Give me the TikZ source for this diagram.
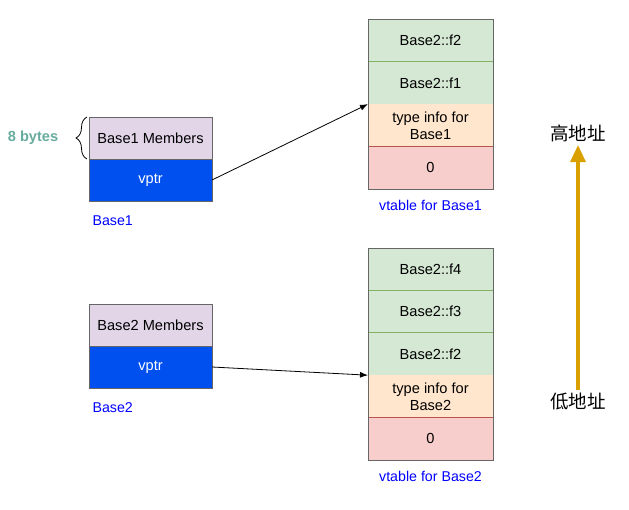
\documentclass[tikz,border=0pt]{standalone}
\usepackage{fontspec}
\setmainfont{Liberation Sans}
\newfontfamily\cjk{Noto Sans CJK SC}
\usepackage{tikz}
\usetikzlibrary{positioning,calc,arrows.meta,decorations.pathreplacing}
\definecolor{MemPurple}{HTML}{E1D5E7}
\definecolor{PtrBlue}{HTML}{0050EF}
\definecolor{FuncGreen}{HTML}{D5E8D4}
\definecolor{FuncEdge}{HTML}{82B366}
\definecolor{InfoOrange}{HTML}{FFE6CC}
\definecolor{ZeroRed}{HTML}{F8CECC}
\definecolor{ZeroEdge}{HTML}{B85450}
\definecolor{EdgeGray}{HTML}{666666}
\definecolor{AddrGold}{HTML}{D9A000}
\definecolor{SizeTeal}{HTML}{67AB9F}
\definecolor{LabelBlue}{HTML}{0000FF}

\begin{document}
\begin{tikzpicture}[x=1pt, y=-1pt, every node/.style={font=\fontsize{14.6}{17}\selectfont}]
  \tikzstyle{cell}=[rectangle, minimum width=123pt, minimum height=42pt, outer sep=0pt,
  inner sep=1pt, align=center, line width=0.6pt]
  \tikzstyle{slot}=[cell, minimum width=125pt, minimum height=42.4pt]
  \tikzstyle{caption}=[text=LabelBlue, font=\fontsize{14.2}{16}\selectfont]
  \useasboundingbox (0,0) rectangle (629,510);

  % object Base1
  \node[cell, draw=EdgeGray, fill=MemPurple] (memA) at (150.5,138) {Base1 Members};
  \node[cell, draw=EdgeGray, fill=PtrBlue, text=white, below=0pt of memA] (ptrA) {vptr};
  \node[caption, anchor=west] (nameA) at (89,221) {Base1};

  % vtable for Base1
  \node[slot, draw=FuncEdge, fill=FuncGreen] (f2A) at (430.5,40.5) {Base2::f2};
  \node[slot, draw=FuncEdge, fill=FuncGreen, below=0pt of f2A] (f1A) {Base2::f1};
  \node[slot, fill=InfoOrange, below=0pt of f1A] (infoA) {type info for\\Base1};
  \node[slot, draw=ZeroEdge, fill=ZeroRed, below=0pt of infoA] (zeroA) {0};
  \draw[EdgeGray, line width=0.6pt] (f2A.north west) rectangle (zeroA.south east);
  \node[caption] (tabA) at (430.5,205) {vtable for Base1};

  % object Base2
  \node[cell, draw=EdgeGray, fill=MemPurple] (memB) at (150.5,325) {Base2 Members};
  \node[cell, draw=EdgeGray, fill=PtrBlue, text=white, below=0pt of memB] (ptrB) {vptr};
  \node[caption, anchor=west] (nameB) at (89,408) {Base2};

  % vtable for Base2
  \node[slot, draw=FuncEdge, fill=FuncGreen] (f4B) at (430.5,269.2) {Base2::f4};
  \node[slot, draw=FuncEdge, fill=FuncGreen, below=0pt of f4B] (f3B) {Base2::f3};
  \node[slot, draw=FuncEdge, fill=FuncGreen, below=0pt of f3B] (f2B) {Base2::f2};
  \node[slot, fill=InfoOrange, below=0pt of f2B] (infoB) {type info for\\Base2};
  \node[slot, draw=ZeroEdge, fill=ZeroRed, below=0pt of infoB] (zeroB) {0};
  \draw[EdgeGray, line width=0.6pt] (f4B.north west) rectangle (zeroB.south east);
  \node[caption] (tabB) at (430.5,476) {vtable for Base2};

  % size brace
  \draw[decorate, decoration={brace, amplitude=11pt}, line width=0.8pt]
    ($(memA.south west)+(-2,0)$) -- ($(memA.north west)+(-2,0)$);
  \node[text=SizeTeal, font=\bfseries\fontsize{14.6}{17}\selectfont] (size) at (33,138) {8 bytes};

  % address direction
  \node[font=\cjk\fontsize{18.5}{20}\selectfont] (hiAddr) at (578,133) {高地址};
  \node[font=\cjk\fontsize{18.5}{20}\selectfont] (loAddr) at (578,402) {低地址};
  \draw[-{Triangle[length=17pt, width=15pt]}, line width=3.4pt, color=AddrGold] (loAddr) -- (hiAddr);

  % pointers
  \draw[-{Latex[length=8pt, width=6pt]}, line width=0.8pt] (ptrA.east) -- (f1A.south west);
  \draw[-{Latex[length=8pt, width=6pt]}, line width=0.8pt] (ptrB.east) -- (f2B.south west);
\end{tikzpicture}
\end{document}
